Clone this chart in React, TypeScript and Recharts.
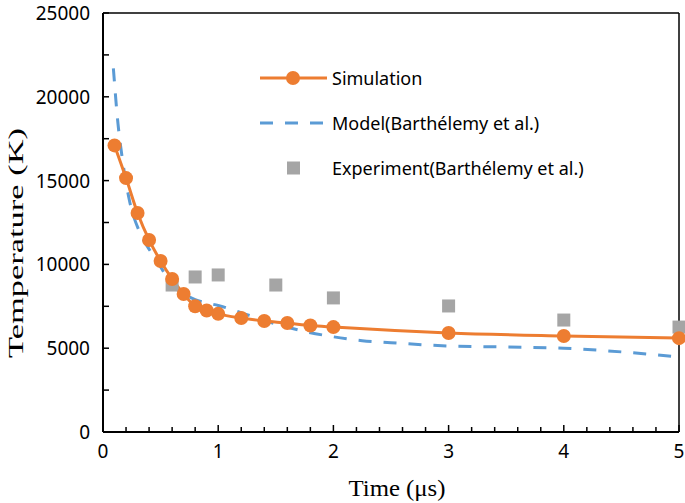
import React from "react"
import {
  ComposedChart,
  Line,
  Scatter,
  XAxis,
  YAxis,
  ReferenceLine,
  Legend,
} from "recharts"

// Simulation (orange, solid with dots)
const simTime = [0.1, 0.2, 0.3, 0.4, 0.5, 0.6, 0.7, 0.8, 0.9, 1.0, 1.2, 1.4, 1.6, 1.8, 2.0, 3.0, 4.0, 5.0]
const simTemp = [17100, 15150, 13070, 11460, 10200, 9130, 8230, 7500, 7250, 7050, 6800, 6620, 6500, 6350, 6260, 5910, 5730, 5600]

// Model (Barthélemy et al.), dashed blue
const modelTime = [0.09, 0.13, 0.17, 0.23, 0.32, 0.42, 0.5, 0.6, 0.7, 0.8, 0.9, 1.0, 1.25, 1.5, 1.75, 2.0, 2.25, 2.5, 3.0, 3.5, 4.0, 4.5, 5.0]
const modelTemp = [21700, 18400, 16200, 13800, 11900, 10700, 9850, 8750, 8250, 7900, 7700, 7550, 7000, 6450, 6000, 5680, 5450, 5330, 5130, 5070, 5000, 4780, 4470]

// Experiment (Barthélemy et al.), grey squares
const expTime = [0.6, 0.8, 1.0, 1.5, 2.0, 3.0, 4.0, 5.0]
const expTemp = [8770, 9250, 9370, 8770, 8000, 7520, 6680, 6260]

const xTicks = [0, 0.2, 0.4, 0.6, 0.8, 1, 1.2, 1.4, 1.6, 1.8, 2, 2.2, 2.4, 2.6, 2.8, 3, 3.2, 3.4, 3.6, 3.8, 4, 4.2, 4.4, 4.6, 4.8, 5]
const yTicks = [0, 2500, 5000, 7500, 10000, 12500, 15000, 17500, 20000, 22500, 25000]

const simData = simTime.map((x, i) => ({ x, sim: simTemp[i] }))
const modelData = modelTime.map((x, i) => ({ x, model: modelTemp[i] }))
const expData = expTime.map((x, i) => ({ x, exp: expTemp[i] }))

const ORANGE = "#ED7D31"
const BLUE = "#5B9BD5"
const GREY = "#A5A5A5"
const SANS = "'Noto Sans', sans-serif"
const SERIF = "'Liberation Serif', 'Times New Roman', serif"

const XTick = (props: any) => {
  const { x, y, payload } = props
  const v = Math.round(payload.value * 10) / 10
  const major = Number.isInteger(v)
  const axisY = y - 10
  return (
    <g>
      <line x1={x} x2={x} y1={axisY} y2={axisY - (major ? 7 : 5)} stroke="#000" strokeWidth={1.5} />
      {major && (
        <text x={x} y={y + 16} textAnchor="middle" fontFamily={SANS} fontSize={19} fill="#000">
          {v}
        </text>
      )}
    </g>
  )
}

const YTick = (props: any) => {
  const { x, y, payload } = props
  const axisX = x + 13
  const major = payload.value % 5000 === 0
  return (
    <g>
      <line x1={axisX} x2={axisX + 6} y1={y} y2={y} stroke="#000" strokeWidth={1.5} />
      {major && (
        <text x={x} y={y + 7} textAnchor="end" fontFamily={SANS} fontSize={19} fill="#000">
          {payload.value}
        </text>
      )}
    </g>
  )
}

const legendRows = [
  { name: "Simulation", kind: "sim" },
  { name: "Model(Barthélemy et al.)", kind: "model" },
  { name: "Experiment(Barthélemy et al.)", kind: "exp" },
]

const renderLegend = () => (
  <div style={{ fontFamily: SANS, fontSize: 18, color: "#000" }}>
    {legendRows.map((r) => (
      <div key={r.name} style={{ display: "flex", alignItems: "center", height: 45 }}>
        <svg width={72} height={20}>
          {r.kind === "sim" && (
            <>
              <line x1={0} x2={67} y1={10} y2={10} stroke={ORANGE} strokeWidth={3} />
              <circle cx={33} cy={10} r={7} fill={ORANGE} />
            </>
          )}
          {r.kind === "model" && (
            <line x1={0} x2={67} y1={10} y2={10} stroke={BLUE} strokeWidth={3} strokeDasharray="13 12" />
          )}
          {r.kind === "exp" && <rect x={27} y={3.5} width={13} height={13} fill={GREY} />}
        </svg>
        <span style={{ whiteSpace: "nowrap" }}>{r.name}</span>
      </div>
    ))}
  </div>
)

const SquareDot = (props: any) => {
  const { cx, cy } = props
  return <rect x={cx - 6.5} y={cy - 6.5} width={13} height={13} fill={GREY} />
}

export default function App() {
  return (
    <div style={{ position: "absolute", left: 0, top: 0, background: "#fff" }}>
      <ComposedChart width={685} height={503} margin={{ top: 13, right: 6, left: 0, bottom: 0 }}>
        <XAxis
          dataKey="x"
          type="number"
          domain={[0, 5]}
          ticks={xTicks}
          interval={0}
          tick={<XTick />}
          tickSize={0}
          tickMargin={10}
          axisLine={{ stroke: "#000", strokeWidth: 2 }}
          height={71}
          label={{
            content: () => (
              <text x={397} y={496} textAnchor="middle" fontFamily={SERIF} fontSize={24} fill="#000" textLength={97} lengthAdjust="spacingAndGlyphs">
                Time (μs)
              </text>
            ),
          }}
        />
        <YAxis
          type="number"
          domain={[0, 25000]}
          ticks={yTicks}
          interval={0}
          tick={<YTick />}
          tickSize={0}
          tickMargin={13}
          axisLine={{ stroke: "#000", strokeWidth: 2 }}
          width={103}
          label={{
            content: () => (
              <text x={0} y={0} transform="translate(23,243) rotate(-90)" textAnchor="middle" fontFamily={SERIF} fontSize={22} fill="#000" textLength={230} lengthAdjust="spacingAndGlyphs">
                Temperature (K)
              </text>
            ),
          }}
        />
        <ReferenceLine y={25000} stroke="#000" strokeWidth={1.5} />
        <ReferenceLine x={5} stroke="#000" strokeWidth={1.5} />
        <Line
          data={modelData}
          dataKey="model"
          type="monotone"
          stroke={BLUE}
          strokeWidth={3}
          strokeDasharray="13 12"
          dot={false}
          isAnimationActive={false}
        />
        <Scatter data={expData} dataKey="exp" shape={<SquareDot />} isAnimationActive={false} />
        <Line
          data={simData}
          dataKey="sim"
          type="monotone"
          stroke={ORANGE}
          strokeWidth={3}
          dot={{ r: 7, fill: ORANGE, stroke: ORANGE, strokeWidth: 0 }}
          isAnimationActive={false}
        />
        <Legend
          layout="vertical"
          align="center"
          verticalAlign="middle"
          content={renderLegend}
          wrapperStyle={{ left: 260, top: 55, width: 330 }}
        />
      </ComposedChart>
    </div>
  )
}
